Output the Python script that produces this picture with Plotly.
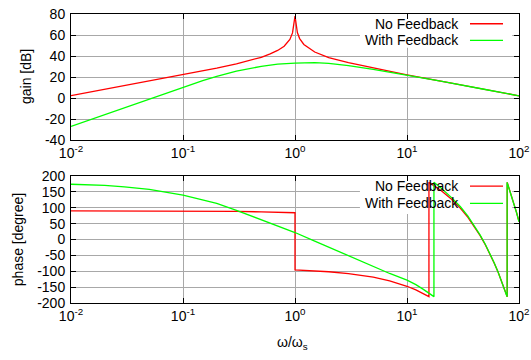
import plotly.graph_objects as go

# ---- data ----
w_gain_nf = [0.01, 0.02, 0.05, 0.1, 0.2, 0.3, 0.4, 0.5, 0.6, 0.7, 0.8, 0.9, 0.95, 0.98, 0.99, 1.0,
             1.01, 1.02, 1.05, 1.1, 1.2, 1.5, 2, 3, 5, 7, 10, 20, 50, 100]
gain_nf = [2.3, 8.3, 16.3, 22.2, 28.5, 32.6, 35.8, 38.8, 42.0, 45.3, 49.3, 55.8, 62.0, 70.0, 75.0, 78.0,
           75.0, 70.0, 62.4, 56.6, 51.0, 43.8, 38.5, 33.6, 28.5, 25.1, 22.1, 16.1, 8.1, 2.1]

w_gain_fb = [0.01, 0.02, 0.03, 0.05, 0.1, 0.15, 0.2, 0.3, 0.5, 0.7, 1.0, 1.5, 2, 3, 5, 7, 10, 20, 50, 100]
gain_fb = [-27.0, -15.8, -9.1, -0.8, 10.5, 16.5, 20.5, 25.5, 30.2, 32.3, 33.3, 33.7, 33.0, 30.8, 27.3,
           24.6, 21.9, 16.0, 8.1, 2.1]

w_phase_nf = [0.01, 0.03, 0.1, 0.3, 0.5, 0.7, 0.99, 1.0, 1.0, 1.5, 2, 3, 5, 7, 10, 12, 14, 15.7, 15.7,
              17, 20, 25, 30, 35, 40, 45, 50, 55, 60, 65, 70, 75, 78.5, 78.5, 85, 90, 95, 100]
phase_nf = [89.9, 89.8, 89.4, 88.3, 87.1, 86.0, 84.4, 84.3, -95.7, -98.6, -101.5, -107.2, -118.7, -130.1,
            -147.3, -158.8, -170.2, -180.0, 180.0, 172.6, 155.4, 126.8, 98.1, 69.5, 40.8, 12.2, -16.5,
            -45.2, -73.8, -102.5, -131.1, -159.8, -180.0, 180.0, 142.8, 114.1, 85.5, 56.8]

w_phase_fb = [0.01, 0.02, 0.03, 0.05, 0.1, 0.2, 0.3, 0.5, 0.7, 1.0, 1.5, 2, 3, 5, 7, 10, 12, 14, 16,
              17.4, 17.4, 20, 25, 30, 35, 40, 45, 50, 55, 60, 65, 70, 75, 78.3, 78.3, 85, 90, 95, 100]
phase_fb = [174.0, 170.5, 166.0, 158.0, 140.0, 114.0, 92.0, 63.0, 42.0, 22.0, -5.0, -24.5, -51.8, -86.0,
            -107.0, -128.0, -142.0, -157.0, -171.0, -180.0, 180.0, 163.0, 132.0, 103.0, 73.5, 43.5, 14.0,
            -15.0, -44.0, -73.0, -102.0, -130.7, -159.6, -180.0, 180.0, 142.0, 113.0, 85.0, 56.0]

series_names = ["No Feedback", "With Feedback"]
series_colors = ["#ff0000", "#00ff00"]

x_tickvals = [0.01, 0.1, 1, 10, 100]
x_ticktext = ["10<sup>-2</sup>", "10<sup>-1</sup>", "10<sup>0</sup>", "10<sup>1</sup>", "10<sup>2</sup>"]
gain_ticks = [-40, -20, 0, 20, 40, 60, 80]
phase_ticks = [-200, -150, -100, -50, 0, 50, 100, 150, 200]

FONT = "Liberation Sans, Arial, sans-serif"
GRID = "#a8a8a8"

fig = go.Figure()
fig.add_trace(go.Scatter(x=w_gain_nf, y=gain_nf, mode="lines", line=dict(color=series_colors[0], width=1.3),
                         xaxis="x", yaxis="y", showlegend=False))
fig.add_trace(go.Scatter(x=w_gain_fb, y=gain_fb, mode="lines", line=dict(color=series_colors[1], width=1.3),
                         xaxis="x", yaxis="y", showlegend=False))
fig.add_trace(go.Scatter(x=w_phase_nf, y=phase_nf, mode="lines", line=dict(color=series_colors[0], width=1.3),
                         xaxis="x2", yaxis="y2", showlegend=False))
fig.add_trace(go.Scatter(x=w_phase_fb, y=phase_fb, mode="lines", line=dict(color=series_colors[1], width=1.3),
                         xaxis="x2", yaxis="y2", showlegend=False))

xcommon = dict(type="log", range=[-2, 2], tickvals=x_tickvals, ticktext=x_ticktext,
               showgrid=True, gridcolor=GRID, gridwidth=1, showline=True, linecolor="black", linewidth=1,
               mirror="ticks", ticks="inside", ticklen=5, tickcolor="black", automargin=False,
               tickfont=dict(family=FONT, size=14, color="black"), zeroline=False, domain=[0, 1])
ycommon = dict(showgrid=True, gridcolor=GRID, gridwidth=1, showline=True, linecolor="black", linewidth=1,
               mirror="ticks", ticks="inside", ticklen=5, tickcolor="black", ticklabelstandoff=2,
               automargin=False, tickfont=dict(family=FONT, size=14, color="black"), zeroline=False)

fig.update_layout(
    width=531, height=360,
    margin=dict(l=71, r=12, t=14, b=57, autoexpand=False),
    paper_bgcolor="white", plot_bgcolor="white", showlegend=False,
    font=dict(family=FONT, size=14, color="black"),
    xaxis=dict(xcommon, anchor="y"),
    yaxis=dict(ycommon, range=[-40, 80], tickvals=gain_ticks, ticktext=[str(v) for v in gain_ticks],
               domain=[0.564, 1], anchor="x"),
    xaxis2=dict(xcommon, anchor="y2"),
    yaxis2=dict(ycommon, range=[-200, 200], tickvals=phase_ticks, ticktext=[str(v) for v in phase_ticks],
                domain=[0, 0.4394], anchor="x2"),
)

# opaque key backgrounds (between grid and curves); shapes use data values on log axes
fig.add_shape(type="rect", xref="x", yref="y", x0=3.8, x1=87.0, y0=47.8, y1=79.4,
              fillcolor="white", line=dict(width=0), layer="between")
fig.add_shape(type="rect", xref="x2", yref="y2", x0=3.8, x1=87.0, y0=80, y1=198,
              fillcolor="white", line=dict(width=0), layer="between")

# key entries: text right-aligned, then a sample line
key_rows = [("x domain", "y domain", [0.9228, 0.79]), ("x2 domain", "y2 domain", [0.921, 0.7845])]
for xr, yr, ys in key_rows:
    for name, col, yy in zip(series_names, series_colors, ys):
        fig.add_annotation(xref=xr, yref=yr, x=0.8705, y=yy, text=name, showarrow=False,
                           xanchor="right", yanchor="middle", font=dict(family=FONT, size=14, color="black"))
        fig.add_shape(type="line", xref=xr, yref=yr, x0=0.8906, x1=0.9643, y0=yy, y1=yy,
                      line=dict(color=col, width=1.3))

# axis titles
fig.add_annotation(xref="paper", yref="y domain", x=-0.1004, y=0.5, text="gain [dB]", textangle=-90,
                   showarrow=False, xanchor="center", yanchor="middle", font=dict(family=FONT, size=14))
fig.add_annotation(xref="paper", yref="y2 domain", x=-0.119, y=0.5, text="phase [degree]", textangle=-90,
                   showarrow=False, xanchor="center", yanchor="middle", font=dict(family=FONT, size=14))
fig.add_annotation(xref="paper", yref="paper", x=0.4955, y=-0.138, text="ω/ω<sub>s</sub>",
                   showarrow=False, xanchor="center", yanchor="middle", font=dict(family=FONT, size=14))

fig.write_html("out.html")
